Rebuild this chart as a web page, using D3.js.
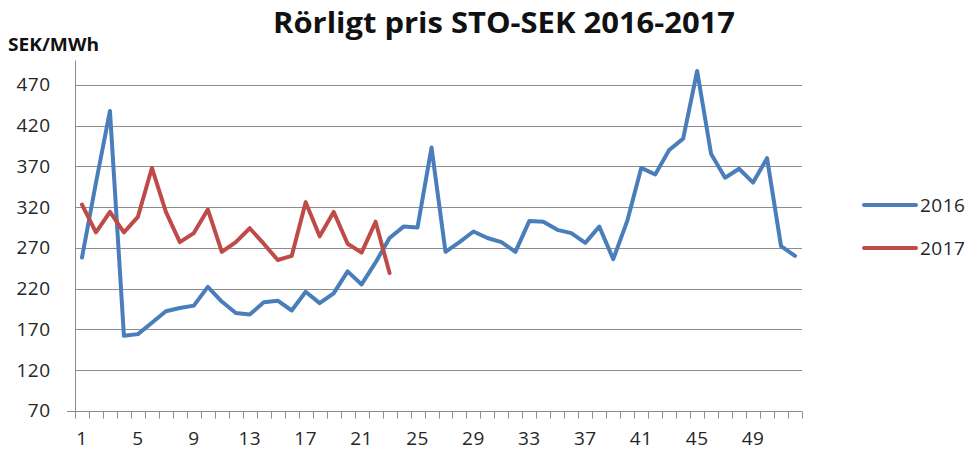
<!DOCTYPE html>
<html>
<head>
<meta charset="utf-8">
<script src="https://cdn.jsdelivr.net/npm/d3@7"></script>
<style>
  html, body { margin: 0; padding: 0; background: #fff; }
  svg { display: block; font-family: "Open Sans", "Liberation Sans", sans-serif; }
</style>
</head>
<body>
<div id="chart"></div>
<script>
// ---- Data ----
const weeks = d3.range(1, 53);
const series2016 = [258, 350, 438, 162, 164, 178, 192, 196, 199, 222, 204, 190, 188, 203, 205, 193, 216, 202, 214, 241,
                    225, 252, 282, 296, 295, 393, 265, 277, 290, 282, 277, 265, 303, 302, 292, 288, 276, 296, 256, 303,
                    368, 360, 390, 404, 487, 385, 356, 367, 350, 380, 272, 260];
const series2017 = [323, 289, 314, 289, 308, 368, 314, 277, 288, 317, 265, 277, 294, 275, 255, 260, 326, 284, 314, 275,
                    264, 302, 239];
const yTicks = [70, 120, 170, 220, 270, 320, 370, 420, 470];
const xTickLabels = [1, 5, 9, 13, 17, 21, 25, 29, 33, 37, 41, 45, 49];
const seriesNames = ["2016", "2017"];
const seriesColors = ["#4a7ebb", "#be4b48"];
const titleText = "Rörligt pris STO-SEK 2016-2017";
const yUnit = "SEK/MWh";

// ---- Layout ----
const W = 975, H = 449;
const pLeft = 75, pRight = 802, pTop = 60.4, pBottom = 410.7;

const svg = d3.select("#chart").append("svg").attr("width", W).attr("height", H);

const x = d3.scaleBand().domain(weeks).range([pLeft, pRight]).padding(0);
const y = d3.scaleLinear().domain([70, 500]).range([pBottom, pTop]);
const cx = d => x(d) + x.bandwidth() / 2;

// gridlines
svg.append("g").selectAll("line").data(yTicks.filter(t => t !== 70)).join("line")
  .attr("x1", pLeft).attr("x2", pRight)
  .attr("y1", d => Math.round(y(d)) + 0.5).attr("y2", d => Math.round(y(d)) + 0.5)
  .attr("stroke", "#8c8c8c").attr("stroke-width", 1);

// y axis
const yAxis = svg.append("g").attr("transform", `translate(${pLeft + 0.5},0)`)
  .call(d3.axisLeft(y).tickValues(yTicks).tickSize(0).tickPadding(25));
yAxis.select(".domain").attr("stroke", "#8c8c8c").attr("d", `M0,${pTop}V${pBottom}`);
yAxis.selectAll("text").attr("font-size", 19).attr("fill", "#262626")
  .attr("font-family", "'Open Sans', sans-serif").attr("letter-spacing", "0.5px");

// x axis
const xAxisY = Math.round(y(70)) + 0.5;
const xAxis = svg.append("g").attr("transform", `translate(0,${xAxisY})`);
xAxis.append("line").attr("x1", 67).attr("x2", pRight).attr("y1", 0).attr("y2", 0)
  .attr("stroke", "#8c8c8c");
const boundaries = weeks.map(w => x(w)).concat([pRight]);
xAxis.selectAll("line.tick").data(boundaries).join("line").attr("class", "tick")
  .attr("x1", d => Math.round(d) + 0.5).attr("x2", d => Math.round(d) + 0.5)
  .attr("y1", 0).attr("y2", 7).attr("stroke", "#8c8c8c");
xAxis.selectAll("text").data(xTickLabels).join("text")
  .attr("x", d => cx(d)).attr("y", 33)
  .attr("text-anchor", "middle").attr("font-size", 19).attr("fill", "#262626")
  .attr("letter-spacing", "0.5px")
  .text(d => d);

// lines
const line = d3.line().x((d, i) => cx(weeks[i])).y(d => y(d));
[series2016, series2017].forEach((s, k) => {
  svg.append("path").datum(s).attr("d", line)
    .attr("fill", "none").attr("stroke", seriesColors[k]).attr("stroke-width", 4)
    .attr("stroke-linejoin", "round").attr("stroke-linecap", "round");
});

// title
svg.append("text").attr("x", 504).attr("y", 33).attr("text-anchor", "middle")
  .attr("font-size", 28).attr("font-weight", "bold").attr("fill", "#111")
  .attr("textLength", 462).attr("lengthAdjust", "spacingAndGlyphs")
  .text(titleText);

// unit label
svg.append("text").attr("x", 8).attr("y", 51).attr("font-size", 17).attr("font-weight", "bold")
  .attr("fill", "#111").attr("textLength", 91).attr("lengthAdjust", "spacingAndGlyphs").text(yUnit);

// legend
const legY = [205, 248];
seriesNames.forEach((n, k) => {
  const g = svg.append("g");
  g.append("line").attr("x1", 864).attr("x2", 916).attr("y1", legY[k]).attr("y2", legY[k])
    .attr("stroke", seriesColors[k]).attr("stroke-width", 4).attr("stroke-linecap", "round");
  g.append("text").attr("x", 920).attr("y", legY[k] + 7).attr("font-size", 19)
    .attr("fill", "#262626").attr("letter-spacing", "0.5px").text(n);
});
</script>
</body>
</html>
